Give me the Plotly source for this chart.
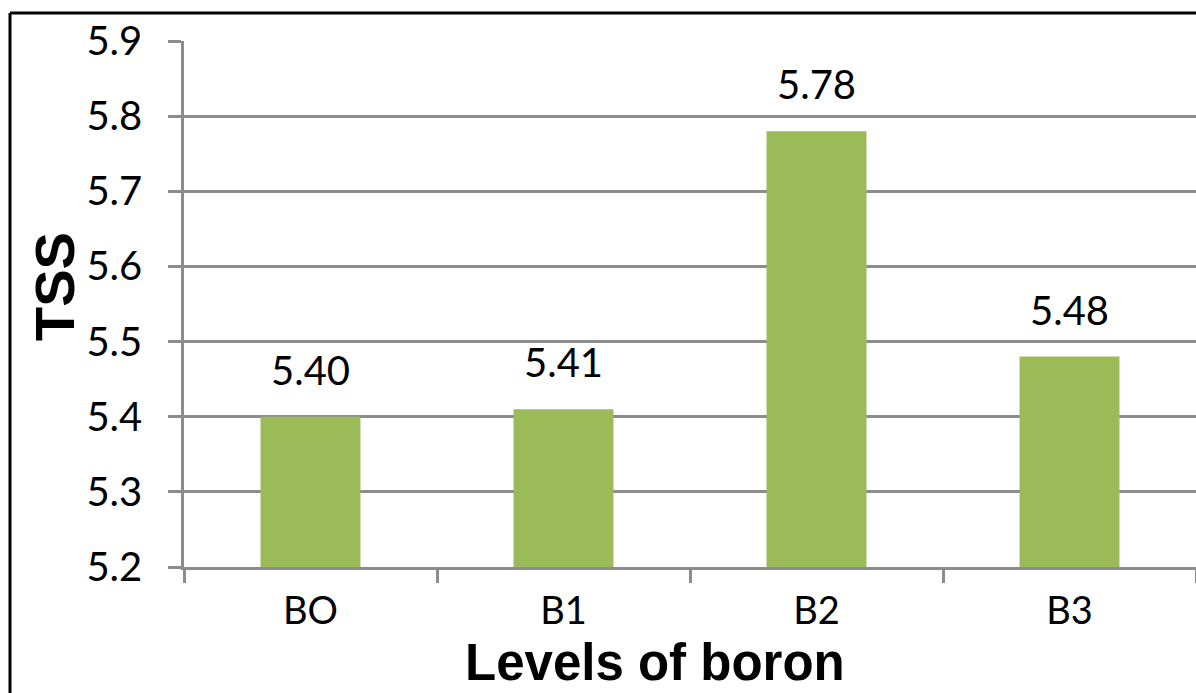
import plotly.graph_objects as go

# Total soluble solids by boron level
levels = ["BO", "B1", "B2", "B3"]
tss = [5.40, 5.41, 5.78, 5.48]
value_labels = ["5.40", "5.41", "5.78", "5.48"]
y_ticks = [5.2, 5.3, 5.4, 5.5, 5.6, 5.7, 5.8, 5.9]

W, H = 1196, 693
L, R, T, B = 184, 0, 41, 126
plot_w = W - L - R
plot_h = H - T - B

grid_col = "#8c8c8c"
bar_col = "#9bbb59"
num_font = dict(family="Lato, Carlito, Calibri, sans-serif", size=40, color="#000000")
cat_font = dict(family="Lato, Carlito, Calibri, sans-serif", size=38, color="#000000")

fig = go.Figure()
fig.add_trace(go.Bar(
    x=levels, y=[v - 5.2 for v in tss], base=5.2,
    marker=dict(color=bar_col, line=dict(width=0)),
    width=0.395, hoverinfo="skip",
))

# value labels above each bar
for cat, v, txt in zip(levels, tss, value_labels):
    fig.add_annotation(x=cat, y=v, text=txt, showarrow=False,
                       yanchor="middle", yshift=47, font=num_font)

# axis titles
fig.add_annotation(x=(54 - L) / plot_w, y=(H - B - 287) / plot_h, xref="paper", yref="paper",
                   text="<b>TSS</b>", textangle=-90, showarrow=False,
                   xanchor="center", yanchor="middle",
                   font=dict(family="Liberation Sans, Arial, sans-serif", size=56, color="#000000"))
fig.add_annotation(x=(655 - L) / plot_w, y=(H - B - 662) / plot_h, xref="paper", yref="paper",
                   text="<b>Levels of boron</b>", showarrow=False,
                   xanchor="center", yanchor="middle",
                   font=dict(family="Liberation Sans, Arial, sans-serif", size=51, color="#000000"))

# outer frame (left and top edges)
fx = (10 - L) / plot_w
fy = (H - B - 13) / plot_h
fig.add_shape(type="line", xref="paper", yref="paper", x0=fx, x1=fx, y0=fy, y1=-0.5,
              line=dict(color="#000000", width=3))
fig.add_shape(type="line", xref="paper", yref="paper", x0=fx, x1=1.05, y0=fy, y1=fy,
              line=dict(color="#000000", width=3))

fig.update_layout(
    width=W, height=H,
    margin=dict(l=L, r=R, t=T, b=B, pad=0),
    paper_bgcolor="#ffffff", plot_bgcolor="#ffffff",
    showlegend=False,
    bargap=0.6,
    font=num_font,
)
fig.update_xaxes(
    type="category", categoryorder="array", categoryarray=levels,
    showgrid=False, showline=True, linecolor=grid_col, linewidth=2.5,
    ticks="outside", ticklen=13, tickwidth=2.5, tickcolor=grid_col,
    tickson="boundaries", tickfont=cat_font, ticklabelstandoff=9,
    range=[-0.5, 3.5],
)
fig.update_yaxes(
    range=[5.2, 5.9], tickvals=y_ticks, ticktext=[f"{t:.1f}" for t in y_ticks],
    showgrid=True, gridcolor=grid_col, gridwidth=2.5,
    showline=True, linecolor=grid_col, linewidth=2.5,
    ticks="outside", ticklen=13, tickwidth=2.5, tickcolor=grid_col,
    tickfont=num_font, ticklabelstandoff=18, zeroline=False,
)

fig.write_html("out.html")
